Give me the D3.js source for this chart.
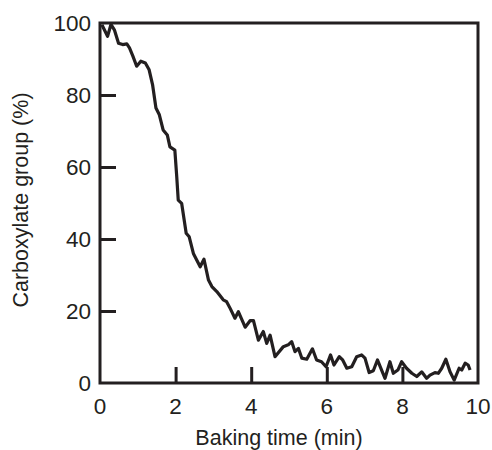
<!DOCTYPE html>
<html lang="en">
<head>
	<meta charset="utf-8">
	<title>Carboxylate group vs baking time</title>
	<script src='https://d3js.org/d3.v7.min.js'></script>
	<style>
		body { margin: 0; background: #fff; }
		svg text { font-family: "Liberation Sans", Arial, Helvetica, sans-serif; fill: #231f20; }
	</style>
</head>
<body>
	<div id="chart"></div>
	<script>
		// values
		const timeMin = [0.05, 0.20, 0.29, 0.38, 0.49, 0.60, 0.71, 0.78, 0.87, 0.97,
			1.08, 1.20, 1.30, 1.39, 1.48, 1.57, 1.67, 1.78, 1.85, 1.98,
			2.03, 2.07, 2.16, 2.28, 2.36, 2.47, 2.65, 2.75, 2.87, 2.96,
			3.09, 3.26, 3.35, 3.44, 3.57, 3.66, 3.84, 3.97, 4.06, 4.19,
			4.32, 4.41, 4.50, 4.63, 4.85, 4.98, 5.07, 5.16, 5.25, 5.34,
			5.47, 5.62, 5.73, 5.86, 5.98, 6.10, 6.19, 6.33, 6.42, 6.53,
			6.66, 6.79, 6.92, 7.01, 7.12, 7.23, 7.34, 7.45, 7.54, 7.67,
			7.76, 7.88, 7.98, 8.11, 8.25, 8.38, 8.51, 8.64, 8.73, 8.86,
			8.95, 9.04, 9.15, 9.26, 9.37, 9.50, 9.57, 9.66, 9.74, 9.79];
		const carboxylate = [99.5, 96.3, 99.6, 98.1, 94.4, 94.0, 94.2, 93.1, 90.8, 88.0,
			89.4, 88.9, 87.0, 82.9, 76.4, 74.5, 70.3, 68.9, 65.6, 64.7,
			57.3, 50.8, 49.9, 41.6, 40.6, 36.0, 32.3, 34.4, 28.6, 26.8,
			25.4, 23.1, 22.6, 20.8, 18.0, 19.8, 15.5, 17.3, 17.3, 11.9,
			14.3, 11.0, 13.3, 7.3, 10.1, 10.6, 11.5, 8.7, 9.6, 6.9,
			6.6, 9.5, 6.4, 5.9, 4.5, 7.8, 5.0, 7.3, 6.4, 4.1,
			4.5, 7.3, 7.8, 6.9, 2.9, 3.4, 6.4, 3.6, 1.3, 5.9,
			2.7, 3.6, 5.9, 4.1, 2.7, 1.8, 3.1, 1.3, 2.2, 2.9,
			2.7, 4.1, 6.6, 3.1, 0.8, 4.1, 3.6, 5.5, 5.0, 3.6];
		const xTicks = [0, 2, 4, 6, 8, 10];
		const yTicks = [0, 20, 40, 60, 80, 100];

		const width = 492;
		const height = 450;
		const margin = {left: 100, right: 14, top: 23, bottom: 67};
		const ink = "#231f20";

		var svg = d3.select("#chart")
			.append("svg")
			.attr("width", width)
			.attr("height", height);

		let x = d3.scaleLinear()
			.domain([0, 10])
			.range([margin.left, width - margin.right]);
		let y = d3.scaleLinear()
			.domain([0, 100])
			.range([height - margin.bottom, margin.top]);

		// inward ticks, no domain path (frame drawn separately)
		let xAxis = d3.axisTop(x).tickValues(xTicks.slice(1, -1)).tickSize(16).tickFormat("");
		let yAxis = d3.axisRight(y).tickValues(yTicks.slice(1, -1)).tickSize(16).tickFormat("");

		let gx = svg.append("g")
			.attr("transform", "translate(0," + y(0) + ")")
			.call(xAxis);
		let gy = svg.append("g")
			.attr("transform", "translate(" + x(0) + ",0)")
			.call(yAxis);
		[gx, gy].forEach(function(g) {
			g.select(".domain").remove();
			g.selectAll(".tick line").attr("stroke", ink).attr("stroke-width", 3);
		});

		// tick labels
		svg.append("g").selectAll("text")
			.data(xTicks)
			.enter()
			.append("text")
			.attr("x", function(d) { return x(d); })
			.attr("y", y(0) + 31)
			.attr("text-anchor", "middle")
			.attr("font-size", 22.5)
			.text(function(d) { return d; });
		svg.append("g").selectAll("text")
			.data(yTicks)
			.enter()
			.append("text")
			.attr("x", x(0) - 9)
			.attr("y", function(d) { return y(d); })
			.attr("dy", "0.36em")
			.attr("text-anchor", "end")
			.attr("font-size", 22.5)
			.text(function(d) { return d; });

		// data line
		let line = d3.line()
			.x(function(d, i) { return x(timeMin[i]); })
			.y(function(d) { return y(d); });
		svg.append("path")
			.datum(carboxylate)
			.attr("fill", "none")
			.attr("stroke", ink)
			.attr("stroke-width", 3.2)
			.attr("stroke-linejoin", "round")
			.attr("d", line);

		// frame
		svg.append("rect")
			.attr("x", x(0))
			.attr("y", y(100))
			.attr("width", x(10) - x(0))
			.attr("height", y(0) - y(100))
			.attr("fill", "none")
			.attr("stroke", ink)
			.attr("stroke-width", 3);

		// axis titles
		svg.append("text")
			.attr("x", (x(0) + x(10)) / 2 - 10)
			.attr("y", 445)
			.attr("text-anchor", "middle")
			.attr("font-size", 21.5)
			.text("Baking time (min)");
		svg.append("text")
			.attr("transform", "translate(28," + ((y(0) + y(100)) / 2 - 3) + ") rotate(-90)")
			.attr("text-anchor", "middle")
			.attr("font-size", 21.5)
			.text("Carboxylate group (%)");
	</script>
</body>
</html>
